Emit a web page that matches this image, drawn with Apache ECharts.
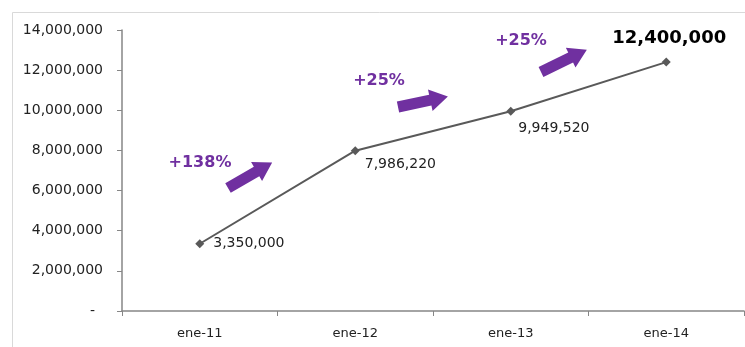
<!DOCTYPE html>
<html>
<head>
<meta charset="utf-8">
<script src="https://cdn.jsdelivr.net/npm/echarts@6/dist/echarts.min.js"></script>
<style>
  html, body { margin: 0; padding: 0; background: #ffffff; }
  #chart { width: 745px; height: 347px; }
</style>
</head>
<body>
<div id="chart"></div>
<script>
// Annual totals (January of each year)
const categories = ['ene-11', 'ene-12', 'ene-13', 'ene-14'];
const values = [3350000, 7986220, 9949520, 12400000];
const yTicks = [0, 2000000, 4000000, 6000000, 8000000, 10000000, 12000000, 14000000];

const PURPLE = '#7030A0';
const FONT = 'DejaVu Sans';

// Year-over-year growth, shown as "+N%"
const growth = values.slice(1).map((v, i) => '+' + Math.round((v / values[i] - 1) * 100) + '%');

const fmt = n => n.toLocaleString('en-US');

// Block arrow pointing right, origin at the middle of its tail
const arrowPts = [[0, -5.5], [33, -5.5], [33, -11], [51, 0], [33, 11], [33, 5.5], [0, 5.5]];
const arrows = [
  { x: 228, y: 188, deg: 30 },
  { x: 398, y: 107, deg: 12 },
  { x: 541, y: 72, deg: 26 }
];
const growthPos = [
  { x: 200, y: 163 },
  { x: 379, y: 81 },
  { x: 521, y: 41 }
];

const labelStyles = [
  { position: 'right', distance: 9, offset: [0, 0] },
  { position: 'right', distance: 5, offset: [0, 14] },
  { position: 'right', distance: 3, offset: [0, 17] },
  { position: 'top', distance: 10, offset: [3, 0], fontSize: 18, fontWeight: 'bold', color: '#000000' }
];

const chart = echarts.init(document.getElementById('chart'), null, { renderer: 'canvas' });

chart.setOption({
  animation: false,
  backgroundColor: '#ffffff',
  grid: { left: 122, right: 1, top: 30, bottom: 36, containLabel: false },
  xAxis: {
    type: 'category',
    data: categories,
    boundaryGap: true,
    axisLine: { lineStyle: { color: '#868686', width: 1.5 } },
    axisTick: { show: true, length: 5, lineStyle: { color: '#868686' } },
    axisLabel: { color: '#222222', fontFamily: FONT, fontSize: 13, margin: 16 }
  },
  yAxis: {
    type: 'value',
    min: yTicks[0],
    max: yTicks[yTicks.length - 1],
    interval: yTicks[1] - yTicks[0],
    splitLine: { show: false },
    axisLine: { show: true, lineStyle: { color: '#868686', width: 1.5 } },
    axisTick: { show: true, length: 5, lineStyle: { color: '#868686' } },
    axisLabel: {
      color: '#222222', fontFamily: FONT, fontSize: 14, margin: 19,
      formatter: v => v === 0 ? '{dash|-}' : fmt(v),
      rich: { dash: { fontFamily: FONT, fontSize: 14, color: '#222222', padding: [0, 8, 0, 0] } }
    }
  },
  series: [{
    type: 'line',
    data: values.map((v, i) => ({
      value: v,
      label: Object.assign({ show: true }, labelStyles[i])
    })),
    symbol: 'diamond',
    symbolSize: 9,
    lineStyle: { color: '#595959', width: 2 },
    itemStyle: { color: '#595959' },
    label: {
      show: true,
      fontFamily: FONT,
      fontSize: 14,
      color: '#222222',
      formatter: p => fmt(p.value)
    }
  }],
  graphic: [
    {
      type: 'rect',
      shape: { x: 12.5, y: 12.5, width: 760, height: 360 },
      style: { fill: null, stroke: '#d9d9d9', lineWidth: 1 },
      silent: true, z: -1
    }
  ].concat(arrows.map(a => ({
    type: 'polygon',
    x: a.x, y: a.y,
    rotation: a.deg * Math.PI / 180,
    shape: { points: arrowPts },
    style: { fill: PURPLE },
    silent: true
  }))).concat(growth.map((t, i) => ({
    type: 'text',
    x: growthPos[i].x, y: growthPos[i].y,
    style: {
      text: t, fill: PURPLE, font: 'bold 16px "DejaVu Sans"',
      textAlign: 'center', textVerticalAlign: 'middle'
    },
    silent: true
  })))
});
</script>
</body>
</html>
